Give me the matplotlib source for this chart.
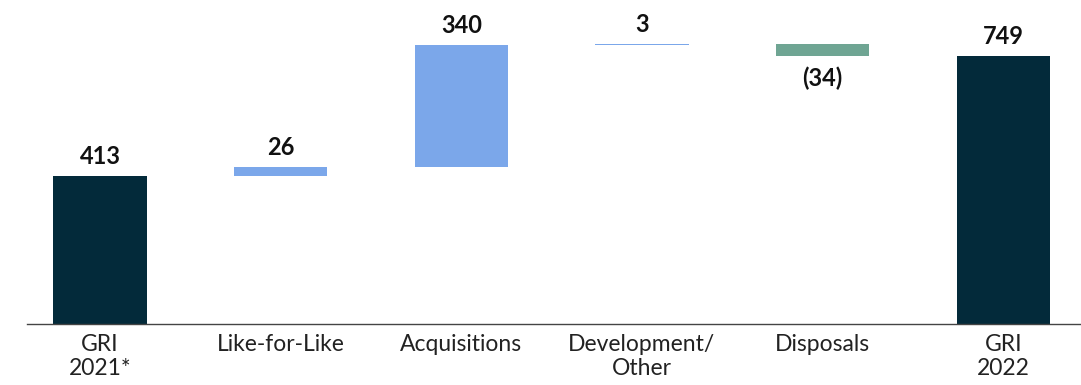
import matplotlib
matplotlib.use('Agg')
import matplotlib.pyplot as plt
import numpy as np

plt.rcParams['font.family'] = ['Lato', 'DejaVu Sans']

categories = ['GRI\n2021*', 'Like-for-Like', 'Acquisitions', 'Development/\nOther', 'Disposals', 'GRI\n2022']
changes = [413, 26, 340, 3, -34, 749]
labels = ['413', '26', '340', '3', '(34)', '749']
kinds = ['total', 'delta', 'delta', 'delta', 'delta', 'total']

dark = '#032a3a'
blue = '#7ba7ea'
green = '#6fa593'

# waterfall bottoms
bottoms = []
heights = []
run = 0
for v, k in zip(changes, kinds):
    if k == 'total':
        bottoms.append(0)
        heights.append(v)
        run = v
    else:
        if v >= 0:
            bottoms.append(run)
        else:
            bottoms.append(run + v)
        heights.append(abs(v))
        run += v

colors = []
for v, k in zip(changes, kinds):
    if k == 'total':
        colors.append(dark)
    elif v >= 0:
        colors.append(blue)
    else:
        colors.append(green)

fig = plt.figure(figsize=(10.81, 3.85), dpi=100)
ax = fig.add_axes([0.025, 0.158, 0.975, 0.842])
x = np.arange(len(categories))
ax.bar(x, heights, bottom=bottoms, width=0.515, color=colors)

for i in range(len(x)):
    top = bottoms[i] + heights[i]
    if changes[i] >= 0:
        ax.text(x[i], top + 22, labels[i], ha='center', va='bottom',
                fontsize=17, fontweight='bold', color='#111111')
    else:
        ax.text(x[i], bottoms[i] - 28, labels[i], ha='center', va='top',
                fontsize=17, fontweight='bold', color='#111111')

ax.set_xlim(-0.404, 5.43)
ax.set_ylim(0, 905)
ax.set_xticks(x)
ax.set_xticklabels(categories, fontsize=16.5, color='#222222', linespacing=1.2)
ax.tick_params(axis='x', length=0, pad=7)
ax.set_yticks([])
for s in ['top', 'right', 'left']:
    ax.spines[s].set_visible(False)
ax.spines['bottom'].set_color('#444444')
ax.spines['bottom'].set_linewidth(1)

fig.savefig('out.png', dpi=100)
